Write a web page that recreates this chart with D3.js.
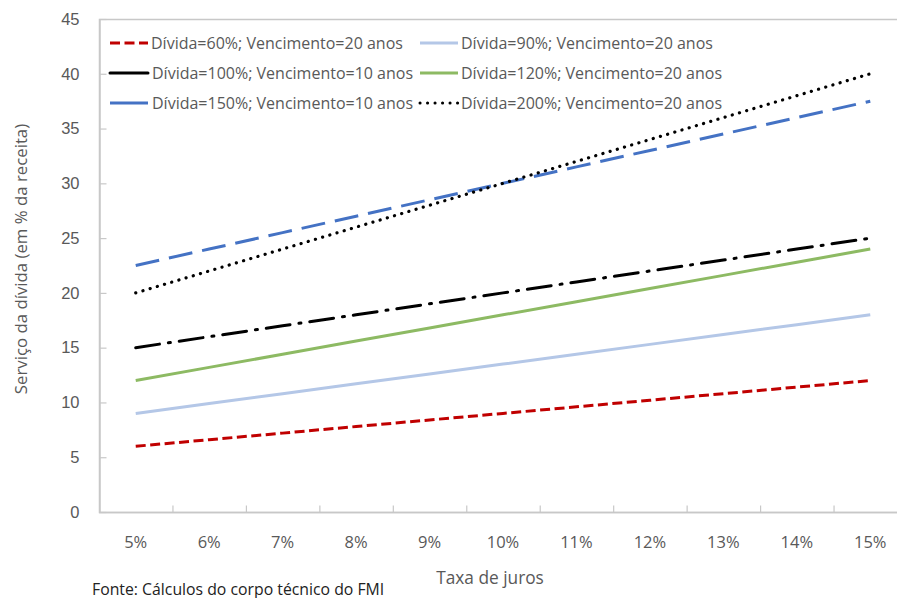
<!DOCTYPE html>
<html>
<head>
<meta charset="utf-8">
<script src="https://cdn.jsdelivr.net/npm/d3@7"></script>
<style>
  body { margin: 0; background: #fff; }
  svg { display: block; font-family: "Open Sans", "Noto Sans", sans-serif; }
</style>
</head>
<body>
<svg id="chart"></svg>
<script>
(function () {

  var width = 897, height = 598;

  // Data
  var rates = ['5%', '6%', '7%', '8%', '9%', '10%', '11%', '12%', '13%', '14%', '15%'];
  var yTicks = [0, 5, 10, 15, 20, 25, 30, 35, 40, 45];

  var seriesNames = [
    'Dívida=60%; Vencimento=20 anos',
    'Dívida=90%; Vencimento=20 anos',
    'Dívida=100%; Vencimento=10 anos',
    'Dívida=120%; Vencimento=20 anos',
    'Dívida=150%; Vencimento=10 anos',
    'Dívida=200%; Vencimento=20 anos'
  ];
  var debt60  = [6, 6.6, 7.2, 7.8, 8.4, 9, 9.6, 10.2, 10.8, 11.4, 12];
  var debt90  = [9, 9.9, 10.8, 11.7, 12.6, 13.5, 14.4, 15.3, 16.2, 17.1, 18];
  var debt100 = [15, 16, 17, 18, 19, 20, 21, 22, 23, 24, 25];
  var debt120 = [12, 13.2, 14.4, 15.6, 16.8, 18, 19.2, 20.4, 21.6, 22.8, 24];
  var debt150 = [22.5, 24, 25.5, 27, 28.5, 30, 31.5, 33, 34.5, 36, 37.5];
  var debt200 = [20, 22, 24, 26, 28, 30, 32, 34, 36, 38, 40];

  var styles = [
    { color: '#c00000', dash: '10,4.5',        cap: 'butt' },
    { color: '#b4c7e7', dash: null,            cap: 'butt' },
    { color: '#000000', dash: '24,9,2,9',      cap: 'round' },
    { color: '#8dba63', dash: null,            cap: 'butt' },
    { color: '#4472c4', dash: '24,10',         cap: 'butt' },
    { color: '#000000', dash: '0.1,7.4',       cap: 'round' }
  ];
  var seriesValues = [debt60, debt90, debt100, debt120, debt150, debt200];

  var margin = { left: 99, top: 19, right: -10, bottom: 86 };
  var plotW = width - margin.left - margin.right;
  var plotH = height - margin.top - margin.bottom;

  var svg = d3.select('#chart')
    .attr('width', width)
    .attr('height', height);

  var x = d3.scaleBand().domain(rates).range([margin.left, margin.left + plotW]);
  var y = d3.scaleLinear().domain([0, 45]).range([margin.top + plotH, margin.top]);

  var axisColor = '#c8c8c8';
  var textColor = '#595959';

  // Plot frame
  svg.append('rect')
    .attr('x', margin.left + 0.5)
    .attr('y', margin.top + 0.5)
    .attr('width', plotW)
    .attr('height', plotH)
    .attr('fill', 'none')
    .attr('stroke', axisColor)
    .attr('stroke-width', 1.5);

  // Y axis
  var yAxis = svg.append('g')
    .attr('transform', 'translate(' + (margin.left + 0.5) + ',0)')
    .call(d3.axisLeft(y).tickValues(yTicks).tickSizeInner(-7).tickSizeOuter(0).tickPadding(20));
  yAxis.select('.domain').attr('stroke', axisColor).attr('stroke-width', 1.5);
  yAxis.selectAll('.tick line').attr('stroke', axisColor).attr('stroke-width', 1.2);
  yAxis.selectAll('.tick text')
    .attr('fill', textColor)
    .style('font-size', '16.5px');

  // X axis: ticks between categories
  var xAxisG = svg.append('g')
    .attr('transform', 'translate(0,' + (margin.top + plotH + 0.5) + ')');
  xAxisG.append('line')
    .attr('x1', margin.left).attr('x2', margin.left + plotW)
    .attr('stroke', axisColor).attr('stroke-width', 1.5);
  xAxisG.selectAll('.xtick')
    .data(rates.slice(1))
    .join('line')
    .attr('class', 'xtick')
    .attr('x1', function (d) { return x(d) + 0.5; })
    .attr('x2', function (d) { return x(d) + 0.5; })
    .attr('y1', 0).attr('y2', -7)
    .attr('stroke', axisColor).attr('stroke-width', 1.2);
  xAxisG.selectAll('.xlabel')
    .data(rates)
    .join('text')
    .attr('class', 'xlabel')
    .attr('x', function (d) { return x(d) + x.bandwidth() / 2; })
    .attr('y', 35)
    .attr('text-anchor', 'middle')
    .attr('fill', textColor)
    .style('font-size', '16.5px')
    .text(function (d) { return d; });

  // Axis titles
  svg.append('text')
    .attr('transform', 'translate(27,259) rotate(-90)')
    .attr('text-anchor', 'middle')
    .attr('fill', textColor)
    .style('font-size', '16.8px')
    .text('Serviço da dívida (em % da receita)');

  svg.append('text')
    .attr('x', 490)
    .attr('y', 584)
    .attr('text-anchor', 'middle')
    .attr('fill', textColor)
    .style('font-size', '17.3px')
    .text('Taxa de juros');

  svg.append('text')
    .attr('x', 92)
    .attr('y', 594.5)
    .attr('fill', '#222')
    .style('font-size', '15.8px')
    .text('Fonte: Cálculos do corpo técnico do FMI');

  // Lines
  var line = d3.line()
    .x(function (d, i) { return x(rates[i]) + x.bandwidth() / 2; })
    .y(function (d) { return y(d); });

  svg.selectAll('.series')
    .data(seriesValues)
    .join('path')
    .attr('class', 'series')
    .attr('d', line)
    .attr('fill', 'none')
    .attr('stroke', function (d, i) { return styles[i].color; })
    .attr('stroke-width', function (d, i) { return i === 5 ? 3.2 : 3; })
    .attr('stroke-linecap', function (d, i) { return styles[i].cap; })
    .attr('stroke-dasharray', function (d, i) { return styles[i].dash; });

  // Legend
  var legCols = [110, 420];
  var legRows = [43, 73, 103];
  var legend = svg.selectAll('.legend-item')
    .data(seriesNames)
    .join('g')
    .attr('class', 'legend-item')
    .attr('transform', function (d, i) {
      return 'translate(' + legCols[i % 2] + ',' + legRows[Math.floor(i / 2)] + ')';
    });

  legend.append('line')
    .attr('x1', 0).attr('x2', 38)
    .attr('stroke', function (d, i) { return styles[i].color; })
    .attr('stroke-width', 3)
    .attr('stroke-linecap', function (d, i) { return styles[i].cap; })
    .attr('stroke-dasharray', function (d, i) {
      return (i === 2 || i === 4) ? null : styles[i].dash;
    });

  legend.append('text')
    .attr('x', function (d, i) { return (i === 2 || i === 4) ? 42 : 41; })
    .attr('y', 5.5)
    .attr('fill', textColor)
    .style('font-size', '16px')
    .text(function (d) { return d; });

})();
</script>
</body>
</html>
